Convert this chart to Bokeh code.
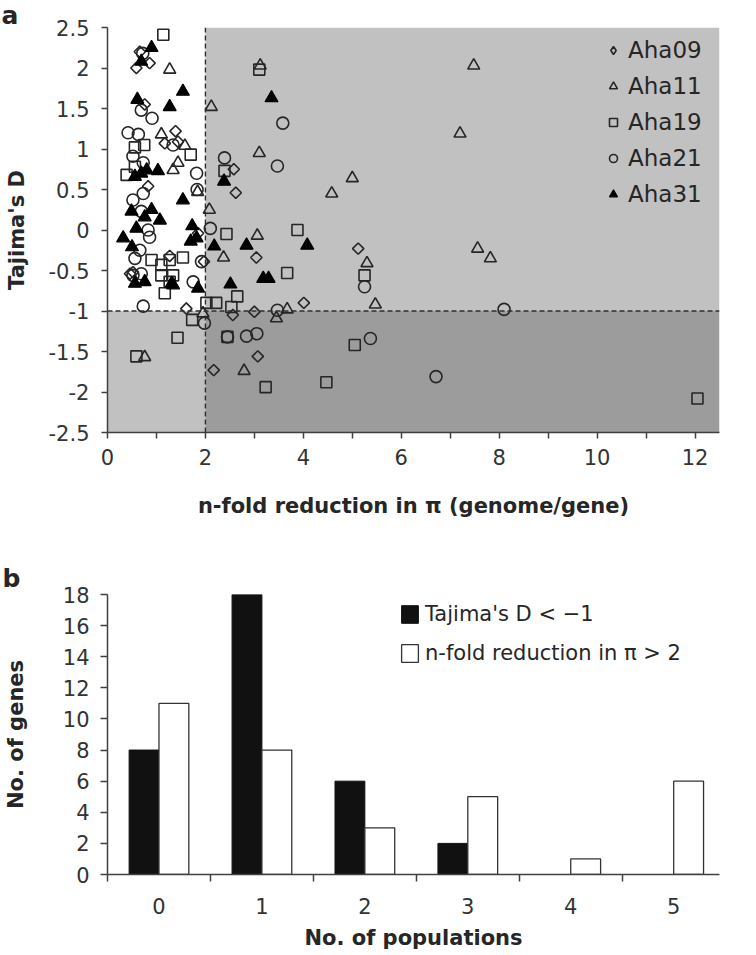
from bokeh.plotting import figure
from bokeh.layouts import column
from bokeh.models import (Range1d, FixedTicker, Span, Legend, LegendItem,
                          ColumnDataSource, CustomJSTickFormatter)
from bokeh.transform import dodge
from bokeh.embed import file_html
from bokeh.resources import INLINE
import math

# ---------------- data: panel a ----------------
aha09_x = [0.66, 0.59, 0.86, 0.76, 1.39, 1.17, 1.44, 0.83, 2.58, 2.62, 1.85, 1.27, 0.46, 0.52,
           1.97, 3.04, 5.12, 1.61, 3.0, 2.56, 4.01, 3.07, 2.17]
aha09_y = [2.2, 2.0, 2.06, 1.55, 1.22, 1.07, 1.09, 0.54, 0.75, 0.46, -0.04, -0.32, -0.54, -0.52,
           -0.39, -0.34, -0.23, -0.97, -1.01, -1.05, -0.9, -1.56, -1.73]

aha11_x = [3.12, 7.48, 1.27, 2.12, 7.2, 1.1, 1.58, 3.1, 1.34, 1.44, 5.0, 4.58, 1.84, 2.08, 3.06,
           2.37, 5.3, 7.56, 7.82, 3.67, 3.45, 5.47, 1.95, 0.76, 2.79]
aha11_y = [2.03, 2.03, 1.98, 1.52, 1.19, 1.18, 1.04, 0.95, 0.74, 0.83, 0.64, 0.45, 0.47, 0.25, -0.07,
           -0.34, -0.41, -0.23, -0.35, -0.98, -1.09, -0.92, -1.03, -1.57, -1.74]

aha19_x = [1.14, 3.1, 0.56, 0.75, 1.7, 0.39, 0.56, 2.39, 2.43, 3.88, 0.9, 1.1, 1.27, 1.54, 1.1, 1.34,
           1.27, 1.17, 3.67, 5.25, 2.65, 2.53, 2.02, 2.22, 1.73, 1.43, 0.59, 2.45, 3.23, 4.47, 5.05, 12.05]
aha19_y = [2.41, 1.98, 1.02, 1.05, 0.93, 0.68, 0.78, 0.73, -0.05, 0.0, -0.37, -0.43, -0.37, -0.34, -0.56,
           -0.56, -0.64, -0.78, -0.53, -0.56, -0.82, -0.95, -0.9, -0.9, -1.11, -1.33, -1.56, -1.32, -1.94,
           -1.88, -1.42, -2.08]

aha21_x = [0.72, 0.69, 0.91, 0.42, 0.63, 1.34, 0.52, 0.73, 1.82, 1.83, 0.52, 0.73, 0.69, 0.83, 0.86,
           0.66, 0.56, 0.52, 0.69, 1.75, 1.92, 2.39, 3.58, 3.47, 2.1, 5.25, 0.73, 1.98, 3.47, 8.1, 2.45,
           2.84, 3.05, 5.37, 6.71]
aha21_y = [2.18, 1.48, 1.38, 1.2, 1.18, 1.05, 0.91, 0.83, 0.7, 0.5, 0.37, 0.45, 0.23, 0.0, -0.09,
           -0.25, -0.35, -0.56, -0.54, -0.64, -0.39, 0.89, 1.32, 0.79, 0.02, -0.7, -0.94, -1.15, -0.99,
           -0.98, -1.32, -1.31, -1.28, -1.34, -1.81]

aha31_x = [0.9, 0.69, 1.54, 0.61, 1.27, 0.56, 0.69, 0.8, 1.03, 1.54, 0.49, 0.9, 0.76, 1.07, 1.73, 0.59,
           0.32, 0.5, 1.82, 1.7, 0.56, 0.76, 1.34, 1.31, 1.85, 2.38, 3.35, 2.18, 2.84, 4.08, 3.18, 3.29, 2.51]
aha31_y = [2.25, 2.08, 1.71, 1.61, 1.52, 0.66, 0.7, 0.74, 0.73, 0.37, 0.23, 0.25, 0.16, 0.12, 0.05, 0.02,
           -0.1, -0.21, -0.1, -0.14, -0.66, -0.64, -0.68, -0.66, -0.72, 0.6, 1.63, -0.2, -0.19, -0.19,
           -0.6, -0.6, -0.67]

PI_THRESHOLD = 2
D_THRESHOLD = -1
X_MIN, X_MAX = 0, 12.5
Y_MIN, Y_MAX = -2.5, 2.5
x_ticks_a = [0, 2, 4, 6, 8, 10, 12]
x_minor_a = [1, 3, 5, 7, 9, 11]
y_ticks_a = [-2.5, -2, -1.5, -1, -0.5, 0, 0.5, 1, 1.5, 2, 2.5]

# ---------------- data: panel b ----------------
populations = [0, 1, 2, 3, 4, 5]
tajima_below = [8, 18, 6, 2, 0, 0]
nfold_above = [11, 8, 3, 5, 1, 6]
y_ticks_b = [0, 2, 4, 6, 8, 10, 12, 14, 16, 18]

FONT = "DejaVu Sans"
AXIS_COLOR = "#404040"
MARK_COLOR = "#262626"
TXT = "#262626"


def style_axis(ax):
    ax.axis_line_color = AXIS_COLOR
    ax.axis_line_width = 1.5
    ax.major_tick_line_color = AXIS_COLOR
    ax.major_tick_line_width = 1.5
    ax.minor_tick_line_color = AXIS_COLOR
    ax.minor_tick_line_width = 1.5
    ax.major_tick_in = 0
    ax.minor_tick_in = 0
    ax.major_label_text_font = FONT
    ax.major_label_text_font_size = "21px"
    ax.major_label_text_color = "#333333"
    ax.axis_label_text_font = FONT
    ax.axis_label_text_font_size = "21px"
    ax.axis_label_text_font_style = "bold"
    ax.axis_label_text_color = TXT


def style_title(p, offset):
    p.title.text_font = FONT
    p.title.text_font_size = "25px"
    p.title.text_font_style = "bold"
    p.title.text_color = TXT
    p.title.align = "left"
    p.title.offset = offset
    p.title.standoff = -8
    p.title.vertical_align = "top"


# ================= panel a =================
p1 = figure(width=750, height=548, x_range=Range1d(X_MIN, X_MAX), y_range=Range1d(Y_MIN, Y_MAX),
            output_backend="svg", toolbar_location=None, title="a",
            min_border_left=106, min_border_right=31, min_border_top=27, min_border_bottom=116)
p1.outline_line_color = None
p1.grid.visible = False
style_title(p1, -106)

LIGHT = "#c1c1c1"
DARK = "#9c9c9c"
p1.quad(left=[PI_THRESHOLD], right=[X_MAX], bottom=[D_THRESHOLD], top=[Y_MAX],
        fill_color=LIGHT, line_color=None)
p1.quad(left=[X_MIN], right=[PI_THRESHOLD], bottom=[Y_MIN], top=[D_THRESHOLD],
        fill_color=LIGHT, line_color=None)
p1.quad(left=[PI_THRESHOLD], right=[X_MAX], bottom=[Y_MIN], top=[D_THRESHOLD],
        fill_color=DARK, line_color=None)

p1.add_layout(Span(location=PI_THRESHOLD, dimension="height", line_color="#2e2e2e",
                   line_dash="5 3", line_width=1.4))
p1.add_layout(Span(location=D_THRESHOLD, dimension="width", line_color="#2e2e2e",
                   line_dash="5 3", line_width=1.4))

# Aha09 points drawn as squares rotated 45 degrees (square diamonds, as in the original)
p1.scatter(aha09_x, aha09_y, marker="square", angle=math.pi / 4, size=8, fill_color=None,
           line_color=MARK_COLOR, line_width=1.6)
# same data with size 0: invisible in the plot, only provides the diamond legend glyph
r09 = p1.scatter(aha09_x, aha09_y, marker="diamond", size=0, fill_color=None,
                 line_color=MARK_COLOR, line_width=1.6)
r11 = p1.scatter(aha11_x, aha11_y, marker="triangle", size=12, fill_color=None,
                 line_color=MARK_COLOR, line_width=1.6)
r19 = p1.scatter(aha19_x, aha19_y, marker="square", size=11, fill_color=None,
                 line_color=MARK_COLOR, line_width=1.6)
r21 = p1.scatter(aha21_x, aha21_y, marker="circle", size=12, fill_color=None,
                 line_color=MARK_COLOR, line_width=1.6)
r31 = p1.scatter(aha31_x, aha31_y, marker="triangle", size=13, fill_color="#000000",
                 line_color="#000000", line_width=1.2)

leg_a = Legend(items=[LegendItem(label="Aha09", renderers=[r09]),
                      LegendItem(label="Aha11", renderers=[r11]),
                      LegendItem(label="Aha19", renderers=[r19]),
                      LegendItem(label="Aha21", renderers=[r21]),
                      LegendItem(label="Aha31", renderers=[r31])],
               location=(496, 220), border_line_color=None, background_fill_alpha=0,
               label_text_font=FONT, label_text_font_size="23px", label_text_color=TXT,
               glyph_width=20, glyph_height=36, label_height=36, spacing=0, padding=0,
               label_standoff=5, margin=0)
p1.add_layout(leg_a)

xa = p1.xaxis[0]
xa.ticker = FixedTicker(ticks=x_ticks_a, minor_ticks=x_minor_a)
xa.formatter = CustomJSTickFormatter(code="return tick.toString();")
ya = p1.yaxis[0]
ya.ticker = FixedTicker(ticks=y_ticks_a, minor_ticks=[])
ya.formatter = CustomJSTickFormatter(code="return tick.toString();")
style_axis(xa)
style_axis(ya)
xa.major_tick_out = 6
xa.minor_tick_out = 6
ya.major_tick_out = 6
ya.minor_tick_out = 0

xa.axis_label = "n-fold reduction in \u03c0 (genome/gene)"
xa.major_label_standoff = 10
xa.axis_label_standoff = 26
ya.axis_label = "Tajima's D"
ya.major_label_standoff = 12
ya.axis_label_standoff = 17

# ================= panel b =================
p2 = figure(width=750, height=404, x_range=Range1d(-0.5, 5.445), y_range=Range1d(0, 18),
            output_backend="svg", toolbar_location=None, title="b",
            min_border_left=105, min_border_right=0, min_border_top=46, min_border_bottom=78)
p2.outline_line_color = None
p2.grid.visible = False
style_title(p2, -105)
p2.title.standoff = 0

src = ColumnDataSource(dict(pop=populations, taj=tajima_below, nf=nfold_above))
rb1 = p2.vbar(x=dodge("pop", -0.145, range=p2.x_range), top="taj", width=0.29, source=src,
              fill_color="#111111", line_color="#111111", line_width=1)
rb2 = p2.vbar(x=dodge("pop", 0.145, range=p2.x_range), top="nf", width=0.29, source=src,
              fill_color="white", line_color="#333333", line_width=1.3)

leg_b = Legend(items=[LegendItem(label="Tajima's D < \u22121", renderers=[rb1]),
                      LegendItem(label="n-fold reduction in \u03c0 > 2", renderers=[rb2])],
               location=(292, 208), border_line_color=None, background_fill_alpha=0,
               label_text_font=FONT, label_text_font_size="21px", label_text_color=TXT,
               glyph_width=21, glyph_height=22, label_height=26, spacing=13, padding=0,
               label_standoff=5, margin=0)
p2.add_layout(leg_b)

xb = p2.xaxis[0]
xb.ticker = FixedTicker(ticks=populations, minor_ticks=[p - 0.5 for p in populations] + [5.5])
yb = p2.yaxis[0]
yb.ticker = FixedTicker(ticks=y_ticks_b, minor_ticks=[])
style_axis(xb)
style_axis(yb)

xb.major_tick_out = 0
xb.major_tick_line_color = None
xb.minor_tick_out = 7
xb.major_label_standoff = 16
xb.axis_label = "No. of populations"
xb.axis_label_standoff = 9
yb.major_tick_out = 7
yb.minor_tick_out = 0
yb.major_label_standoff = 11
yb.axis_label = "No. of genes"
yb.axis_label_standoff = 32

layout = column(p1, p2, spacing=0)
open("out.html", "w").write(file_html(layout, INLINE))
